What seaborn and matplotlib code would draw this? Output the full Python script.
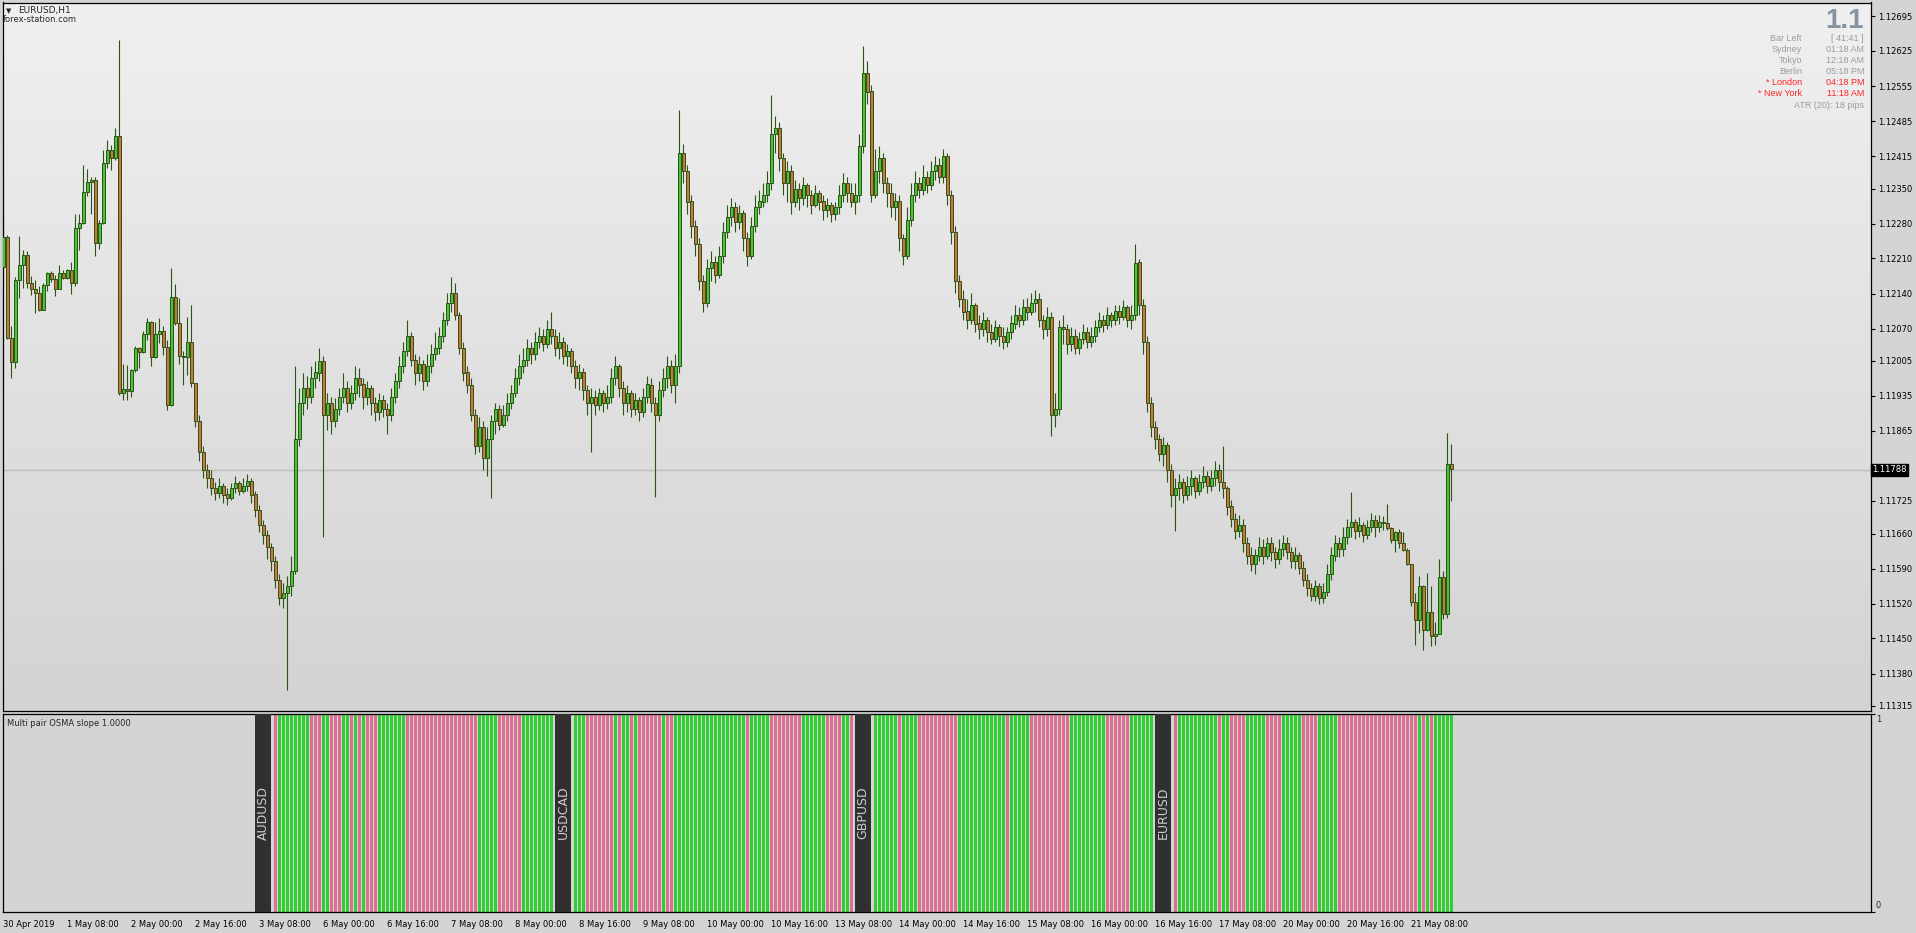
import numpy as np
import pandas as pd
import matplotlib
matplotlib.use("Agg")
import matplotlib.pyplot as plt
import matplotlib.transforms as mtransforms
from matplotlib.colors import LinearSegmentedColormap
import seaborn as sns

# EURUSD H1 candles, 30 Apr 16:00 .. 21 May 18:00
# prices are written in pips above 1.11000 (1.12253 -> 125.3)
BASE = 1.11
first_open = 119.3
close_pips = [
    125.3, 105.1, 100.3, 116.7, 119.7, 121.7, 116.1, 114.9, 114.1, 110.7,
    115.7, 118.1, 116.9, 114.9, 118.1, 117.1, 118.7, 116.1, 127.1, 128.1,
    134.3, 136.3, 136.7, 124.1, 128.1, 140.1, 142.7, 141.1, 145.5, 94.1,
    94.9, 94.5, 98.7, 103.1, 102.3, 105.9, 108.3, 101.3, 105.9, 106.5,
    103.3, 91.7, 113.3, 108.1, 101.5, 101.3, 104.3, 96.1, 88.5, 82.3,
    78.7, 77.0, 75.0, 74.0, 75.5, 73.8, 73.1, 75.0, 76.0, 74.5,
    75.5, 76.5, 73.8, 70.6, 67.7, 65.7, 63.3, 60.4, 56.7, 53.0,
    54.0, 55.5, 58.4, 84.8, 92.1, 95.1, 93.3, 97.0, 98.2, 100.4,
    89.7, 92.1, 88.5, 90.9, 93.3, 95.1, 92.1, 94.1, 97.0, 95.8,
    93.3, 95.1, 92.1, 90.2, 92.6, 90.9, 89.7, 93.3, 96.5, 99.4,
    102.4, 105.5, 100.7, 98.2, 99.9, 96.5, 99.4, 101.9, 103.1, 105.5,
    108.7, 112.1, 114.1, 109.7, 103.1, 98.2, 95.8, 89.7, 83.6, 87.2,
    81.1, 84.8, 88.5, 90.9, 87.7, 89.7, 92.1, 94.1, 97.0, 99.4,
    100.7, 103.1, 101.9, 104.3, 105.5, 103.8, 106.8, 105.5, 103.1, 104.3,
    101.4, 102.4, 99.4, 97.0, 98.2, 94.6, 92.1, 93.3, 91.6, 94.1,
    92.1, 93.3, 97.0, 99.4, 95.1, 92.1, 94.1, 90.9, 92.6, 90.2,
    93.3, 95.8, 92.1, 89.7, 94.6, 97.0, 99.4, 95.8, 99.4, 142.2,
    138.5, 132.4, 127.5, 123.9, 116.5, 112.1, 119.0, 120.2, 117.8, 121.4,
    126.3, 129.2, 131.2, 128.3, 130.0, 125.1, 121.4, 127.5, 131.2, 132.4,
    133.6, 136.1, 145.8, 147.1, 141.0, 136.1, 138.5, 132.4, 134.8, 133.1,
    135.6, 133.6, 131.7, 134.1, 132.4, 130.7, 131.7, 130.0, 131.2, 133.6,
    136.1, 134.1, 132.4, 133.6, 143.4, 158.0, 154.4, 133.6, 138.5, 141.0,
    136.1, 134.1, 131.2, 132.4, 125.1, 121.4, 128.7, 133.6, 136.1, 134.8,
    137.3, 135.6, 138.5, 139.7, 137.3, 141.4, 133.6, 126.3, 116.5, 112.9,
    110.4, 108.7, 111.7, 108.0, 106.8, 108.7, 106.3, 104.8, 107.3, 105.5,
    104.3, 106.3, 108.0, 109.7, 108.7, 111.2, 110.4, 112.1, 112.9, 108.7,
    106.8, 109.2, 89.7, 90.9, 107.3, 106.8, 103.8, 105.5, 103.1, 104.8,
    106.3, 104.3, 105.5, 107.3, 108.7, 107.7, 109.7, 108.7, 110.4, 109.2,
    111.2, 108.7, 109.7, 120.2, 111.7, 104.3, 92.1, 87.2, 84.8, 81.9,
    83.6, 78.7, 73.8, 75.0, 76.2, 73.8, 75.5, 77.0, 74.5, 76.2,
    77.5, 75.5, 77.0, 78.7, 76.2, 75.0, 71.4, 68.9, 66.5, 67.7,
    64.0, 61.6, 59.9, 61.6, 63.3, 61.6, 64.0, 62.3, 60.9, 62.8,
    64.0, 62.3, 60.4, 61.6, 59.1, 56.7, 55.0, 53.5, 55.5, 53.0,
    54.3, 57.9, 61.6, 64.0, 62.8, 65.2, 67.2, 68.2, 66.5, 67.7,
    65.7, 67.2, 68.7, 67.2, 68.2, 68.1, 67.1, 64.7, 66.3, 64.1,
    62.7, 59.9, 52.3, 48.7, 55.5, 46.7, 50.3, 45.5, 45.9, 57.3,
    49.9, 79.9, 78.8,
]
high_pips = [
    129.1, 125.7, 107.5, 117.3, 125.5, 122.7, 122.5, 117.5, 116.7, 115.5,
    116.0, 118.3, 118.5, 117.7, 119.7, 118.7, 118.9, 120.3, 129.9, 129.9,
    139.7, 138.9, 137.3, 137.3, 128.7, 142.7, 144.7, 143.7, 147.1, 164.7,
    99.9, 99.7, 98.9, 103.5, 103.3, 106.5, 109.1, 108.5, 108.3, 109.1,
    107.5, 104.7, 119.1, 115.9, 113.1, 102.5, 109.3, 111.7, 93.3, 89.7,
    83.6, 79.9, 78.7, 76.2, 77.0, 76.0, 75.0, 76.0, 77.5, 76.5,
    77.0, 77.9, 77.0, 74.5, 71.6, 68.7, 66.7, 64.0, 61.6, 57.9,
    56.0, 57.4, 61.6, 99.4, 95.1, 98.2, 97.5, 99.4, 100.4, 103.1,
    101.4, 94.1, 93.3, 93.1, 95.1, 98.2, 96.5, 95.8, 99.4, 99.0,
    97.0, 96.5, 95.8, 93.3, 94.1, 93.6, 92.1, 95.1, 98.2, 101.4,
    104.3, 108.7, 106.3, 101.9, 101.4, 100.7, 101.9, 103.8, 106.3, 107.3,
    110.4, 114.1, 117.3, 116.0, 110.4, 104.3, 99.4, 97.0, 90.9, 89.2,
    88.5, 87.2, 89.7, 92.1, 91.6, 91.6, 94.1, 95.8, 99.0, 101.9,
    103.1, 104.8, 104.3, 106.3, 107.3, 106.8, 108.7, 110.4, 106.8, 106.3,
    105.3, 103.8, 103.1, 100.7, 99.9, 99.0, 95.8, 95.1, 94.6, 95.1,
    94.6, 95.8, 99.0, 101.4, 99.9, 96.5, 95.8, 94.6, 94.1, 93.3,
    95.1, 97.5, 97.0, 93.3, 96.5, 99.0, 101.4, 100.7, 101.9, 150.7,
    143.9, 139.7, 133.6, 128.7, 125.1, 117.8, 120.9, 122.6, 121.4, 123.4,
    128.3, 131.7, 133.1, 132.4, 131.7, 130.7, 126.3, 129.2, 133.6, 134.8,
    136.1, 138.5, 153.7, 149.5, 148.3, 142.2, 140.5, 139.7, 136.6, 136.1,
    137.3, 136.1, 134.8, 135.6, 134.8, 133.6, 133.1, 132.4, 132.4, 135.6,
    138.0, 137.3, 136.1, 136.1, 145.8, 163.4, 160.5, 155.6, 142.9, 143.4,
    142.2, 137.3, 136.1, 134.1, 133.6, 125.8, 131.2, 136.1, 138.5, 137.3,
    139.7, 138.5, 140.5, 141.4, 141.0, 142.9, 142.2, 134.8, 127.5, 117.8,
    114.6, 112.9, 114.1, 112.1, 109.7, 110.4, 109.2, 108.0, 108.7, 108.0,
    107.3, 107.3, 109.7, 111.7, 111.2, 112.9, 113.1, 114.1, 114.6, 114.1,
    109.7, 111.2, 110.4, 94.1, 108.7, 109.7, 108.0, 107.3, 106.8, 106.3,
    108.0, 107.3, 107.3, 108.7, 110.2, 109.7, 111.2, 110.4, 111.7, 111.7,
    112.6, 111.7, 111.7, 123.9, 120.9, 112.9, 105.5, 93.3, 88.5, 86.0,
    85.3, 84.3, 79.9, 77.0, 77.9, 77.0, 77.5, 78.7, 77.5, 77.9,
    79.4, 78.4, 78.7, 80.4, 79.9, 83.6, 75.5, 72.6, 70.1, 69.6,
    68.9, 65.2, 63.3, 62.8, 65.2, 64.8, 65.2, 65.2, 63.3, 64.8,
    65.7, 65.2, 63.3, 63.3, 62.3, 60.4, 57.9, 56.0, 56.7, 56.0,
    56.0, 59.9, 63.3, 65.7, 65.2, 67.2, 68.9, 74.3, 68.9, 69.2,
    68.2, 68.7, 70.1, 69.6, 69.6, 69.5, 71.9, 67.3, 66.5, 66.9,
    66.3, 63.1, 59.7, 54.1, 57.5, 55.7, 58.1, 55.5, 48.3, 60.9,
    58.5, 86.1, 83.9,
]
low_pips = [
    115.3, 104.9, 97.1, 99.1, 113.1, 115.1, 115.1, 113.7, 110.1, 110.5,
    110.9, 114.5, 116.3, 113.5, 114.9, 116.9, 116.9, 113.9, 115.5, 122.7,
    127.9, 133.5, 129.9, 121.5, 122.9, 127.9, 139.1, 138.7, 140.7, 93.7,
    92.7, 92.7, 93.3, 98.3, 99.1, 102.1, 104.7, 99.5, 101.1, 104.1,
    101.7, 90.7, 91.5, 107.7, 99.9, 95.7, 97.7, 95.3, 87.2, 80.4,
    77.0, 75.0, 73.8, 72.6, 73.1, 72.1, 71.6, 72.6, 74.0, 73.6,
    74.0, 74.5, 72.1, 69.2, 66.2, 63.8, 60.9, 58.4, 55.0, 51.6,
    51.1, 34.7, 53.5, 57.9, 83.6, 89.7, 90.9, 92.1, 95.1, 96.5,
    65.2, 86.7, 86.0, 87.2, 89.7, 92.1, 90.2, 90.9, 92.6, 93.3,
    90.9, 91.6, 89.7, 88.5, 88.7, 89.2, 86.0, 88.5, 92.1, 95.1,
    98.2, 101.4, 99.4, 95.8, 96.5, 94.6, 95.5, 98.2, 100.7, 101.9,
    104.3, 107.7, 110.4, 108.7, 101.9, 96.5, 94.1, 88.5, 81.9, 82.3,
    78.7, 77.5, 73.1, 86.0, 86.7, 87.2, 88.5, 90.9, 93.3, 95.8,
    98.2, 99.4, 99.9, 100.7, 103.1, 102.4, 103.1, 103.8, 101.4, 100.9,
    99.9, 99.4, 98.0, 95.1, 94.6, 92.6, 89.7, 82.3, 89.7, 90.6,
    90.2, 90.9, 92.1, 95.8, 93.3, 89.7, 90.2, 89.2, 89.7, 88.5,
    89.2, 92.1, 90.2, 73.3, 88.5, 93.3, 95.1, 94.1, 92.1, 98.2,
    136.1, 130.0, 125.1, 121.4, 114.6, 110.4, 111.2, 116.5, 116.0, 117.0,
    120.2, 125.1, 127.5, 126.3, 126.8, 122.6, 119.5, 120.9, 126.3, 130.0,
    131.2, 132.4, 134.8, 142.2, 138.5, 133.6, 132.4, 130.0, 131.2, 130.7,
    131.7, 131.2, 130.0, 131.2, 130.7, 128.7, 129.2, 128.3, 128.7, 130.0,
    132.4, 132.4, 131.2, 130.0, 132.4, 142.2, 151.9, 132.4, 133.1, 136.1,
    134.1, 131.2, 129.2, 128.7, 122.6, 119.7, 120.9, 127.5, 132.4, 133.1,
    133.6, 134.1, 134.6, 136.6, 136.1, 136.1, 131.7, 123.9, 114.1, 111.2,
    108.7, 106.8, 108.0, 106.3, 104.8, 105.5, 104.3, 103.8, 104.3, 103.6,
    102.9, 103.3, 104.8, 106.8, 107.3, 107.7, 108.7, 109.7, 110.2, 107.3,
    104.8, 105.5, 85.5, 87.2, 89.7, 103.8, 101.9, 102.4, 101.9, 101.9,
    103.8, 103.1, 103.3, 104.3, 106.3, 106.3, 106.8, 107.3, 107.7, 108.0,
    108.7, 107.3, 106.8, 108.7, 109.7, 101.9, 90.2, 85.3, 82.8, 80.4,
    79.4, 76.2, 71.4, 66.5, 72.6, 72.1, 72.6, 73.8, 73.1, 73.8,
    75.0, 74.0, 74.5, 75.5, 74.5, 73.1, 69.6, 67.2, 64.8, 65.2,
    62.3, 59.9, 58.4, 57.9, 60.4, 59.9, 60.9, 60.4, 59.1, 59.9,
    61.6, 60.9, 59.1, 58.9, 57.9, 55.5, 53.5, 52.5, 52.5, 51.8,
    52.1, 53.5, 56.7, 60.4, 61.3, 61.6, 63.8, 65.2, 64.8, 65.2,
    64.3, 64.8, 66.2, 65.2, 66.2, 66.7, 66.7, 64.1, 62.3, 63.1,
    62.5, 59.7, 51.5, 43.7, 46.1, 42.7, 46.5, 43.5, 43.7, 45.9,
    48.9, 49.1, 72.5,
]

last_price = 1.11788
price_ticks = [1.12695, 1.12625, 1.12555, 1.12485, 1.12415, 1.12350, 1.12280,
               1.12210, 1.12140, 1.12070, 1.12005, 1.11935, 1.11865, 1.11795,
               1.11725, 1.11660, 1.11590, 1.11520, 1.11450, 1.11380, 1.11315]
hidden_tick = 1.11795  # sits under the current-price box
time_labels = ['30 Apr 2019', '1 May 08:00', '2 May 00:00', '2 May 16:00',
               '3 May 08:00', '6 May 00:00', '6 May 16:00', '7 May 08:00',
               '8 May 00:00', '8 May 16:00', '9 May 08:00', '10 May 00:00',
               '10 May 16:00', '13 May 08:00', '14 May 00:00', '14 May 16:00',
               '15 May 08:00', '16 May 00:00', '16 May 16:00', '17 May 08:00',
               '20 May 00:00', '20 May 16:00', '21 May 08:00']
bars_per_label = 16

# Multi pair OSMA slope: label block bar, then colour runs (G rising, P falling)
osma_pairs = ['AUDUSD', 'USDCAD', 'GBPUSD', 'EURUSD']
osma_block_bar = [63, 138, 213, 288]
audusd_runs = [('P', 1), ('G', 8), ('P', 3), ('G', 2), ('P', 3), ('G', 2), ('P', 1), ('G', 1),
               ('P', 1), ('G', 1), ('P', 3), ('G', 7), ('P', 18), ('G', 5), ('P', 6), ('G', 8)]
usdcad_runs = [('G', 3), ('P', 7), ('G', 1), ('P', 1), ('G', 2), ('P', 1), ('G', 1), ('P', 6),
               ('G', 1), ('P', 2), ('G', 18), ('P', 1), ('G', 5), ('P', 8), ('G', 6), ('P', 4),
               ('G', 2), ('P', 1)]
gbpusd_runs = [('G', 6), ('P', 1), ('G', 4), ('P', 10), ('G', 12), ('P', 1), ('G', 5), ('P', 10),
               ('G', 9), ('P', 6), ('G', 6)]
eurusd_runs = [('P', 1), ('G', 10), ('P', 1), ('G', 2), ('P', 4), ('G', 5), ('P', 4), ('G', 5),
               ('P', 4), ('G', 5), ('P', 20), ('G', 1), ('P', 1), ('G', 1), ('P', 1), ('G', 5)]

info_rows = [('Bar Left', '[ 41:41 ]'), ('Sydney', '01:18 AM'), ('Tokyo', '12:18 AM'),
             ('Berlin', '05:18 PM'), ('* London', '04:18 PM'), ('* New York', '11:18 AM')]
info_red = [False, False, False, False, True, True]

# ---------------------------------------------------------------
sns.set_style('white')
plt.rcParams['font.family'] = ['DejaVu Sans']

n = min(len(close_pips), len(high_pips), len(low_pips))
close = BASE + np.array(close_pips[:n]) / 1e4
high = BASE + np.array(high_pips[:n]) / 1e4
low = BASE + np.array(low_pips[:n]) / 1e4
opens = np.concatenate([[BASE + first_open / 1e4], close[:-1]])
high = np.maximum(high, np.maximum(opens, close))
low = np.minimum(low, np.minimum(opens, close))
bars = np.arange(n)

W, H = 1916, 933
fig = plt.figure(figsize=(W / 100, H / 100), dpi=100, facecolor='#d4d4d4')


def px_rect(l, t, r, b):
    return [l / W, 1 - b / H, (r - l) / W, (b - t) / H]


def fx(x):
    return x / W


def fy(y):
    return 1 - y / H


ax = fig.add_axes(px_rect(2.5, 2.5, 1871, 711))
ax2 = fig.add_axes(px_rect(2.5, 713.5, 1871, 911.5))
x_lo, x_hi = -0.2, 466.9
y_lo, y_hi = 1.11305, 1.12722

# chart background gradient
bg = LinearSegmentedColormap.from_list('bg', ['#d3d3d3', '#f0f0f0'])
ax.imshow(np.linspace(0, 1, 256)[:, None], aspect='auto', cmap=bg, origin='lower',
          extent=[x_lo, x_hi, y_lo, y_hi], zorder=0)

ax.axhline(last_price, color='#bdbdbd', lw=1, zorder=1)

# candles
up = close >= opens
edge = '#2b5414'
ax.vlines(bars, low, high, color=edge, lw=0.8, zorder=2)
ax.bar(bars, np.maximum(np.abs(close - opens), 0.000005), bottom=np.minimum(opens, close),
       width=0.72, color=np.where(up, '#46c43a', '#d0743e'), edgecolor=edge,
       linewidth=0.7, zorder=3)

ax.set_xlim(x_lo, x_hi)
ax.set_ylim(y_lo, y_hi)
ax.set_xticks([])
ax.yaxis.tick_right()
ax.set_yticks(price_ticks)
ax.set_yticklabels(['' if p == hidden_tick else f'{p:.5f}' for p in price_ticks], fontsize=6)
ax.tick_params(axis='y', direction='out', length=3, width=0.8, pad=2, colors='black')
for s in ax.spines.values():
    s.set_color('black')
    s.set_linewidth(0.9)

# current price marker
trans = mtransforms.blended_transform_factory(ax.transAxes, ax.transData)
ax.text(1.0008, last_price, f'{last_price:.5f}', transform=trans, ha='left', va='center',
        fontsize=6, color='white', zorder=10, clip_on=False,
        bbox=dict(boxstyle='square,pad=0.18', fc='black', ec='black'))

# ---- lower panel
rows = []
for start, runs in zip(osma_block_bar, [audusd_runs, usdcad_runs, gbpusd_runs, eurusd_runs]):
    k = start + 5
    for col, cnt in runs:
        for _ in range(cnt):
            rows.append((k, 1.0, col))
            k += 1
osma_df = pd.DataFrame(rows, columns=['bar', 'value', 'dir'])

ax2.set_facecolor('#d4d4d4')
sns.barplot(data=osma_df, x='bar', y='value', hue='dir', orient='x',
            palette={'G': '#32cd32', 'P': '#db7093'}, native_scale=True, width=0.75,
            dodge=False, errorbar=None, legend=False, saturation=1, linewidth=0, ax=ax2)
block_centers = [b + 1.875 for b in osma_block_bar]
ax2.bar(block_centers, 1.0, width=3.9, color='#303030', linewidth=0, zorder=4)
for cx, name in zip(block_centers, osma_pairs):
    ax2.text(cx + 0.1, 0.5, name, rotation=90, ha='center', va='center',
             color='#cdcdcd', fontsize=9, zorder=5)

ax2.set_xlim(x_lo, x_hi)
ax2.set_ylim(0, 1)
ax2.set_xlabel('')
ax2.set_ylabel('')
ax2.yaxis.tick_right()
ax2.set_yticks([0, 1])
ax2.set_yticklabels(['', ''])
ax2.tick_params(axis='y', direction='out', length=3, width=0.8, colors='black')
tick_bars = [i * bars_per_label for i in range(len(time_labels))]
ax2.set_xticks(tick_bars)
ax2.set_xticklabels(time_labels, fontsize=6, ha='left')
ax2.tick_params(axis='x', direction='out', length=4, width=0.8, pad=2, colors='black')
for s in ax2.spines.values():
    s.set_color('black')
    s.set_linewidth(0.9)

fig.text(fx(1876), fy(720), '1', fontsize=6, va='center', ha='left')
fig.text(fx(1876), fy(905), '0', fontsize=6, va='center', ha='left')
fig.text(fx(7), fy(724), 'Multi pair OSMA slope 1.0000', fontsize=6, va='center', ha='left')

# ---- labels top left
fig.text(fx(6), fy(11), '\u25bc', fontsize=5, va='center', ha='left')
fig.text(fx(18), fy(11), 'EURUSD,H1', fontsize=6.5, va='center', ha='left')
fig.text(fx(3), fy(19.5), 'forex-station.com', fontsize=6, va='center', ha='left')

# ---- info panel top right
fig.text(fx(1864), fy(28.5), '1.1', ha='right', va='baseline', fontsize=20,
         fontweight='bold', family='Liberation Sans', color='#8592a0')
for i, ((lab, val), red) in enumerate(zip(info_rows, info_red)):
    c = '#ff2424' if red else '#9c9c9c'
    yy = fy(38.5 + 11 * i)
    fig.text(fx(1802), yy, lab, ha='right', va='center', fontsize=6.5,
             family='Liberation Sans', color=c)
    fig.text(fx(1864), yy, val, ha='right', va='center', fontsize=6.5,
             family='Liberation Sans', color=c)
fig.text(fx(1864), fy(105), 'ATR (20): 18 pips', ha='right', va='center', fontsize=6.5,
         family='Liberation Sans', color='#9c9c9c')

fig.savefig('out.png', dpi=100, facecolor=fig.get_facecolor())
